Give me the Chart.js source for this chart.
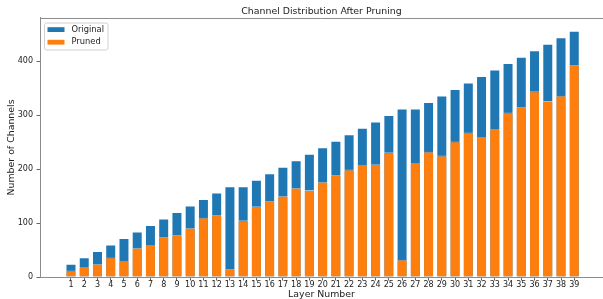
<!DOCTYPE html>
<html>
<head>
<meta charset="utf-8">
<script src="https://cdn.jsdelivr.net/npm/chart.js@4.4.0/dist/chart.umd.min.js"></script>
<style>
    html, body { margin: 0; padding: 0; background: #fff; }
    #wrap { width: 603px; height: 299px; position: relative; }
</style>
</head>
<body>
<div id="wrap"><canvas id="chartPruning"></canvas></div>
<script>
// ================================
// Data
// ================================
const layers = [1,2,3,4,5,6,7,8,9,10,11,12,13,14,15,16,17,18,19,20,
                21,22,23,24,25,26,27,28,29,30,31,32,33,34,35,36,37,38,39];
const original = [24,36,48,60,72,84,96,108,120,132,144,156,168,168,180,192,204,216,228,240,
                  252,264,276,288,300,312,312,324,336,348,360,372,384,396,408,420,432,444,456];
const pruned = [12,18,24,36,30,54,59,74,78,91,110,115,15,105,131,141,150,165,161,176,
                189,199,208,209,231,32,211,232,225,251,268,259,274,305,315,344,326,336,393];
const yTicks = [0, 100, 200, 300, 400];

const colors = {
    original: '#1f77b4',
    pruned: '#ff7f0e',
    spine: '#8c8c8c',
    text: '#222'
};
const font = 'DejaVu Sans';

// top spine + legend box (matplotlib style, inside the axes)
const extras = {
    id: 'extras',
    afterDraw(chart) {
        const { ctx, chartArea } = chart;
        ctx.save();
        ctx.strokeStyle = colors.spine;
        ctx.lineWidth = 1;
        ctx.beginPath();
        ctx.moveTo(chartArea.left, chartArea.top + 0.5);
        ctx.lineTo(chartArea.right, chartArea.top + 0.5);
        ctx.stroke();

        // legend
        const x = 44, y = 22.5, w = 63.5, h = 27, r = 2;
        ctx.fillStyle = 'rgba(255,255,255,0.85)';
        ctx.strokeStyle = '#d0d0d0';
        ctx.beginPath();
        ctx.roundRect(x + 0.5, y + 0.5, w, h, r);
        ctx.fill();
        ctx.stroke();

        const items = [
            { label: 'Original', color: colors.original, cy: 29.6 },
            { label: 'Pruned', color: colors.pruned, cy: 42.2 }
        ];
        ctx.font = '8.3px "' + font + '"';
        ctx.textBaseline = 'middle';
        items.forEach(it => {
            ctx.fillStyle = it.color;
            ctx.fillRect(47.5, it.cy - 2.4, 17, 4.8);
            ctx.fillStyle = colors.text;
            ctx.fillText(it.label, 71.5, it.cy);
        });
        ctx.restore();
    }
};

const ctx = document.getElementById('chartPruning');
new Chart(ctx, {
    type: 'bar',
    data: {
        datasets: [
            {
                label: 'Pruned',
                data: layers.map((l, i) => ({ x: l, y: pruned[i] })),
                backgroundColor: colors.pruned,
                borderColor: 'rgba(255,255,255,0.55)',
                borderWidth: 0.8,
                grouped: false,
                order: 1
            },
            {
                label: 'Original',
                data: layers.map((l, i) => ({ x: l, y: original[i] })),
                backgroundColor: colors.original,
                borderColor: 'rgba(255,255,255,0.55)',
                borderWidth: 0.8,
                grouped: false,
                order: 2
            }
        ]
    },
    options: {
        responsive: true,
        maintainAspectRatio: false,
        animation: false,
        datasets: { bar: { categoryPercentage: 1, barPercentage: 0.8 } },
        layout: { padding: 0 },
        plugins: {
            legend: { display: false },
            tooltip: { enabled: false },
            title: {
                display: true,
                text: 'Channel Distribution After Pruning',
                fullSize: false,
                color: colors.text,
                font: { family: font, size: 9.4, weight: 'normal', lineHeight: 1.2 },
                padding: { top: 6, bottom: 0.7 }
            }
        },
        scales: {
            x: {
                type: 'linear',
                min: -1.34,
                max: 41.17,
                offset: false,
                afterBuildTicks: s => { s.ticks = layers.map(v => ({ value: v })); },
                afterFit: s => { s.height = 22; },
                grid: { display: true, offset: false, drawOnChartArea: false, drawTicks: true, tickLength: 3.5, color: '#666' },
                border: { display: true, color: colors.spine, width: 1 },
                ticks: {
                    autoSkip: false, maxRotation: 0, padding: 0,
                    color: colors.text,
                    font: { family: font, size: 8 },
                    callback: v => String(v)
                },
                title: {
                    display: true,
                    text: 'Layer Number',
                    color: colors.text,
                    font: { family: font, size: 9.4, lineHeight: 1 },
                    padding: 0
                }
            },
            y: {
                min: 0,
                max: 480,
                afterBuildTicks: s => { s.ticks = yTicks.map(v => ({ value: v })); },
                afterFit: s => { s.width = 40; },
                grid: { display: true, drawOnChartArea: false, drawTicks: true, tickLength: 3.5, color: '#666' },
                border: { display: true, color: colors.spine, width: 1 },
                ticks: {
                    padding: 3.5,
                    color: colors.text,
                    font: { family: font, size: 8 }
                },
                title: {
                    display: true,
                    text: 'Number of Channels',
                    color: colors.text,
                    font: { family: font, size: 9.4, lineHeight: 1.2 },
                    padding: { top: 6, bottom: 0 }
                }
            }
        }
    },
    plugins: [extras]
});
</script>
</body>
</html>
